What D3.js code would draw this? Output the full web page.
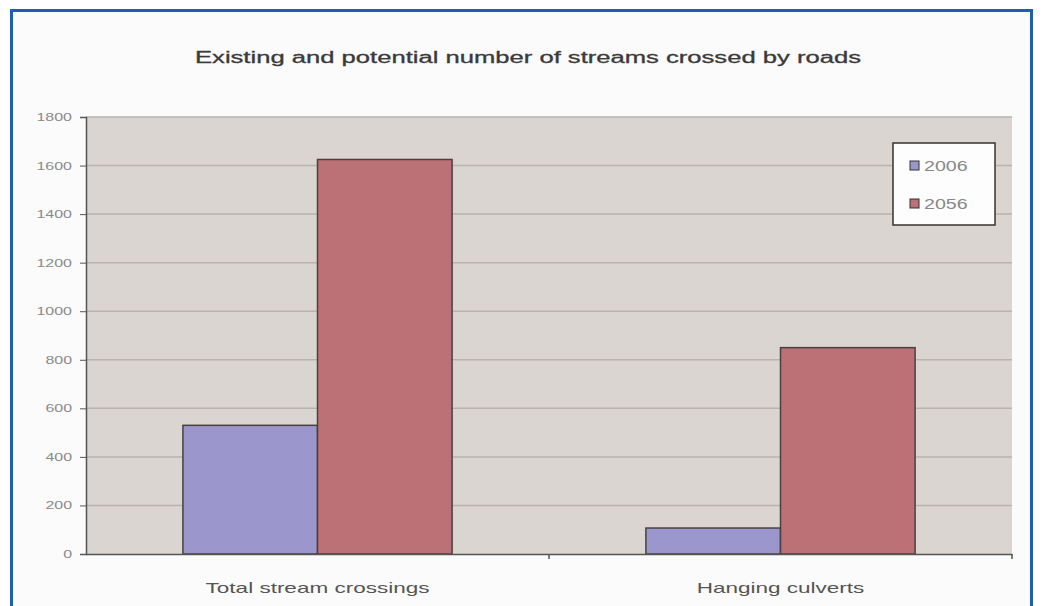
<!DOCTYPE html>
<html>
<head>
<meta charset="utf-8">
<script src="https://d3js.org/d3.v7.min.js"></script>
<style>
  body { margin: 0; background: #ffffff; }
  text { font-family: "Liberation Sans", Arial, sans-serif; }
</style>
</head>
<body>
<script>
// chart data
const categories = ["Total stream crossings", "Hanging culverts"];
const seriesNames = ["2006", "2056"];
const values2006 = [530, 107];
const values2056 = [1625, 850];
const yTicks = [0, 200, 400, 600, 800, 1000, 1200, 1400, 1600, 1800];

const svgWidth = 1045;
const svgHeight = 606;
const margin = { top: 117, right: 33, bottom: 52, left: 86 };
const chartWidth = svgWidth - margin.left - margin.right;
const chartHeight = svgHeight - margin.top - margin.bottom;

const colors = ["#9b97cc", "#bb7176"];

// the source picture is stretched sideways, so widen the text to match
function stretch(sel, factor) {
  sel.each(function () {
    const w = this.getComputedTextLength();
    d3.select(this).attr("textLength", w * factor).attr("lengthAdjust", "spacingAndGlyphs");
  });
}

const svg = d3.select("body").append("svg")
  .attr("width", svgWidth)
  .attr("height", svgHeight);

// page background and blue frame
svg.append("rect")
  .attr("x", 0).attr("y", 0)
  .attr("width", svgWidth).attr("height", svgHeight)
  .attr("fill", "#ffffff");
svg.append("rect")
  .attr("x", 11.5).attr("y", 10.5)
  .attr("width", 1020).attr("height", 620)
  .attr("fill", "#fbfbfb")
  .attr("stroke", "#1f5fb2")
  .attr("stroke-width", 3);

// title
svg.append("text")
  .attr("x", 528)
  .attr("y", 63)
  .attr("text-anchor", "middle")
  .attr("font-size", "16px")
  .attr("fill", "#3a3a3a")
  .attr("stroke", "#3a3a3a")
  .attr("stroke-width", 0.3)
  .text("Existing and potential number of streams crossed by roads")
  .call(stretch, 1.6);

const chartGroup = svg.append("g")
  .attr("transform", `translate(${margin.left}, ${margin.top})`);

const x0 = d3.scaleBand().domain(categories).range([0, chartWidth]);
const x1 = d3.scaleBand().domain(seriesNames)
  .range([0, x0.bandwidth()]).paddingOuter(0.72).paddingInner(0);
const y = d3.scaleLinear().domain([0, 1800]).range([chartHeight, 0]);

// plot area background
chartGroup.append("rect")
  .attr("width", chartWidth)
  .attr("height", chartHeight)
  .attr("fill", "#dbd5d2");

// gridlines
chartGroup.append("g")
  .selectAll("line")
  .data(yTicks.filter((d) => d > 0))
  .enter()
  .append("line")
  .attr("x1", 0).attr("x2", chartWidth)
  .attr("y1", (d) => y(d)).attr("y2", (d) => y(d))
  .attr("stroke", "#b9b2ae")
  .attr("stroke-width", 1.5);

// bars
const rows = categories.map((c, i) => ({ cat: c, vals: [values2006[i], values2056[i]] }));
chartGroup.selectAll(".grp")
  .data(rows)
  .enter()
  .append("g")
  .attr("transform", (d) => `translate(${x0(d.cat)},0)`)
  .selectAll("rect")
  .data((d) => d.vals.map((v, j) => ({ key: seriesNames[j], v: v, j: j })))
  .enter()
  .append("rect")
  .attr("x", (d) => x1(d.key))
  .attr("y", (d) => y(d.v))
  .attr("width", x1.bandwidth())
  .attr("height", (d) => chartHeight - y(d.v))
  .attr("fill", (d) => colors[d.j])
  .attr("stroke", "#4a4040")
  .attr("stroke-width", 1.5);

// y axis
const leftAxis = d3.axisLeft(y).tickValues(yTicks).tickFormat(d3.format("d")).tickSize(6).tickPadding(8);
const yAxisG = chartGroup.append("g").call(leftAxis);
yAxisG.select(".domain").attr("stroke", "#555").attr("stroke-width", 1.5);
yAxisG.selectAll(".tick line").attr("stroke", "#555");
yAxisG.selectAll(".tick text")
  .attr("fill", "#8a8a8a")
  .attr("font-size", "11px")
  .attr("font-family", "Liberation Sans, Arial, sans-serif")
  .call(stretch, 1.45);

// x axis
const bottomAxis = d3.axisBottom(x0).tickSize(0).tickPadding(28);
const xAxisG = chartGroup.append("g")
  .attr("transform", `translate(0, ${chartHeight})`)
  .call(bottomAxis);
xAxisG.select(".domain").attr("stroke", "#555").attr("stroke-width", 1.5);
xAxisG.selectAll(".tick text")
  .attr("fill", "#555")
  .attr("font-size", "15px")
  .attr("font-family", "Liberation Sans, Arial, sans-serif")
  .call(stretch, 1.5);

// category separator ticks
chartGroup.append("g")
  .selectAll("line")
  .data(categories)
  .enter()
  .append("line")
  .attr("x1", (d) => x0(d) + x0.bandwidth())
  .attr("x2", (d) => x0(d) + x0.bandwidth())
  .attr("y1", chartHeight)
  .attr("y2", chartHeight + 5)
  .attr("stroke", "#555")
  .attr("stroke-width", 1.5);

// legend
const legend = svg.append("g").attr("transform", "translate(893, 143)");
legend.append("rect")
  .attr("width", 102).attr("height", 82)
  .attr("fill", "#fdfdfd")
  .attr("stroke", "#333")
  .attr("stroke-width", 1.5);
const items = legend.selectAll(".item")
  .data(seriesNames)
  .enter()
  .append("g")
  .attr("transform", (d, i) => `translate(17, ${18 + i * 38})`);
items.append("rect")
  .attr("width", 9).attr("height", 9)
  .attr("fill", (d, i) => colors[i])
  .attr("stroke", "#333");
items.append("text")
  .attr("x", 14).attr("y", 10)
  .attr("font-size", "14px")
  .attr("fill", "#888")
  .text((d) => d)
  .call(stretch, 1.4);
</script>
</body>
</html>
